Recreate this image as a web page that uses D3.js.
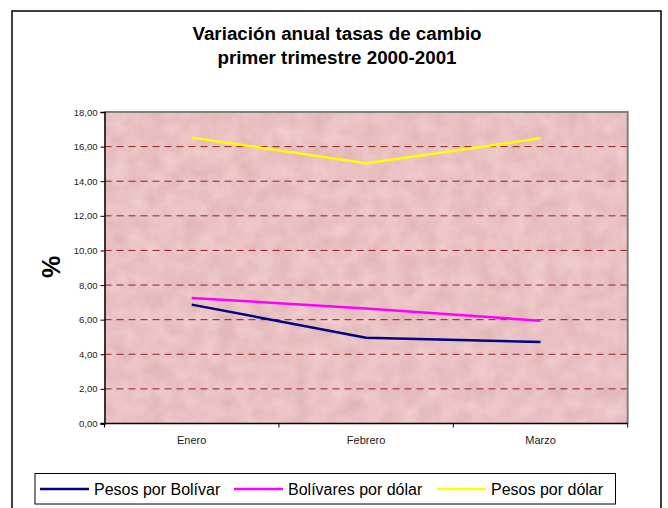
<!DOCTYPE html>
<html>
<head>
<meta charset="utf-8">
<script src="https://cdn.jsdelivr.net/npm/d3@7"></script>
<style>
  html, body { margin: 0; padding: 0; background: #fff; }
  svg { display: block; font-family: "Liberation Sans", Arial, sans-serif; }
</style>
</head>
<body>
<svg id="chart" width="668" height="508"></svg>
<script>
// ---- data ----
const categories = ["Enero", "Febrero", "Marzo"];
const seriesNames = ["Pesos por Bolívar", "Bolívares por dólar", "Pesos por dólar"];
const pesosPorBolivar = [6.87, 4.96, 4.71];
const bolivaresPorDolar = [7.25, 6.65, 5.94];
const pesosPorDolar = [16.52, 15.04, 16.48];
const yTicks = [0, 2, 4, 6, 8, 10, 12, 14, 16, 18];
const yTickLabels = ["0,00", "2,00", "4,00", "6,00", "8,00", "10,00", "12,00", "14,00", "16,00", "18,00"];
const seriesColors = ["#000080", "#ff00ff", "#ffff00"];
const titleLines = ["Variación anual tasas de cambio", "primer trimestre 2000-2001"];

const series = [pesosPorBolivar, bolivaresPorDolar, pesosPorDolar].map((v, i) => ({
  name: seriesNames[i], color: seriesColors[i], values: v
}));

const FONT = "'Liberation Sans', Arial, sans-serif";
const svg = d3.select("#chart");
const plot = { left: 104.5, right: 627.7, top: 112, bottom: 423.5 };

const x = d3.scaleBand().domain(categories).range([plot.left, plot.right]).padding(0);
const y = d3.scaleLinear().domain([0, 18]).range([plot.bottom, plot.top]);

// defs: marble texture
const defs = svg.append("defs");
const f = defs.append("filter").attr("id", "marble")
  .attr("x", 0).attr("y", 0).attr("width", "100%").attr("height", "100%")
  .attr("color-interpolation-filters", "sRGB");
f.append("feTurbulence").attr("type", "fractalNoise").attr("baseFrequency", "0.055")
  .attr("numOctaves", 4).attr("seed", 11).attr("result", "noise");
f.append("feColorMatrix").attr("in", "noise").attr("type", "matrix")
  .attr("values", "0.075 0 0 0 0.878  0.125 0 0 0 0.695  0.12 0 0 0 0.703  0 0 0 0 1")
  .attr("result", "tint");
f.append("feComposite").attr("in", "tint").attr("in2", "SourceGraphic").attr("operator", "in");

// outer chart border
svg.append("rect").attr("x", 12).attr("y", 11).attr("width", 649).attr("height", 520)
  .attr("fill", "none").attr("stroke", "#000").attr("stroke-width", 1.5);

// title
titleLines.forEach((t, i) => {
  svg.append("text").attr("x", 337).attr("y", 40 + i * 24).attr("text-anchor", "middle")
    .attr("font-size", 18.8).attr("font-weight", "bold").attr("font-family", FONT).text(t);
});

// plot background
svg.append("rect").attr("x", plot.left).attr("y", plot.top)
  .attr("width", plot.right - plot.left).attr("height", plot.bottom - plot.top)
  .attr("fill", "#e9c2c3");
svg.append("rect").attr("x", plot.left).attr("y", plot.top)
  .attr("width", plot.right - plot.left).attr("height", plot.bottom - plot.top)
  .attr("fill", "#e9c2c3").attr("filter", "url(#marble)");

// gridlines
svg.append("g").selectAll("line").data(yTicks.filter(d => d > 0 && d < 18)).join("line")
  .attr("x1", plot.left).attr("x2", plot.right)
  .attr("y1", d => y(d)).attr("y2", d => y(d))
  .attr("stroke", "#951f1f").attr("stroke-width", 1).attr("stroke-dasharray", "7,5");

// plot border: gray top/right
svg.append("path")
  .attr("d", `M${plot.left},${plot.top}H${plot.right}V${plot.bottom}`)
  .attr("fill", "none").attr("stroke", "#808080").attr("stroke-width", 2);

// y axis
const yAxis = d3.axisLeft(y).tickValues(yTicks).tickSize(4).tickPadding(3)
  .tickFormat((d, i) => yTickLabels[i]);
const gy = svg.append("g").attr("transform", `translate(${plot.left},0)`).call(yAxis);
gy.select(".domain").attr("stroke", "#000").attr("stroke-width", 1.5);
gy.selectAll(".tick line").attr("stroke", "#000");
gy.selectAll(".tick text").attr("font-size", 9.5).attr("fill", "#222").attr("font-family", FONT);

// x axis
const xAxis = d3.axisBottom(x).tickSize(0).tickPadding(13);
const gx = svg.append("g").attr("transform", `translate(0,${plot.bottom})`).call(xAxis);
gx.select(".domain").remove();
gx.selectAll(".tick text").attr("font-size", 11).attr("fill", "#222").attr("font-family", FONT);
svg.append("line").attr("x1", plot.left - 4).attr("x2", plot.right).attr("y1", plot.bottom).attr("y2", plot.bottom)
  .attr("stroke", "#000").attr("stroke-width", 1.5);
const boundaries = categories.map(c => x(c)).concat([x(categories[categories.length - 1]) + x.bandwidth()]);
svg.append("g").selectAll("line").data(boundaries).join("line")
  .attr("x1", d => d).attr("x2", d => d)
  .attr("y1", plot.bottom).attr("y2", plot.bottom + 4)
  .attr("stroke", "#000").attr("stroke-width", 1);

// y label
svg.append("text").attr("transform", "translate(60,267) rotate(-90)")
  .attr("text-anchor", "middle").attr("font-size", 25).attr("font-weight", "bold")
  .attr("font-family", FONT).text("%");

// lines
const line = d3.line().x((d, i) => x(categories[i]) + x.bandwidth() / 2).y(d => y(d));
svg.append("g").selectAll("path").data(series).join("path")
  .attr("d", d => line(d.values))
  .attr("fill", "none").attr("stroke", d => d.color).attr("stroke-width", 2.5)
  .attr("stroke-linejoin", "round");

// legend
const lg = svg.append("g");
lg.append("rect").attr("x", 35).attr("y", 473.5).attr("width", 580.5).attr("height", 30.5)
  .attr("fill", "#fff").attr("stroke", "#000").attr("stroke-width", 1);
const legendX = [40, 234, 437];
series.forEach((s, i) => {
  lg.append("line").attr("x1", legendX[i]).attr("x2", legendX[i] + 49)
    .attr("y1", 489).attr("y2", 489).attr("stroke", s.color).attr("stroke-width", 2.5);
  lg.append("text").attr("x", legendX[i] + 54).attr("y", 494.5)
    .attr("font-size", 16).attr("fill", "#000").attr("font-family", FONT).text(s.name);
});
</script>
</body>
</html>
